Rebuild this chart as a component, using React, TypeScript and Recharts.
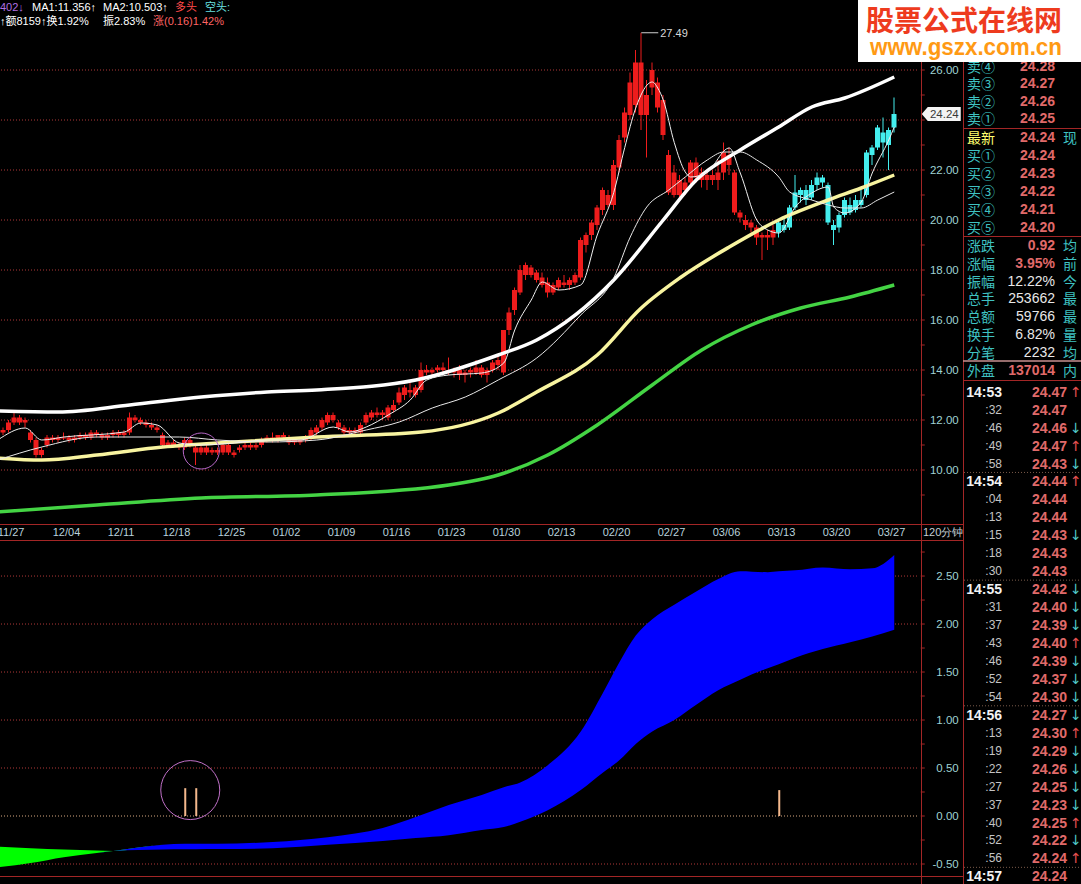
import React from "react";
import { ComposedChart, Bar, Line, Area, XAxis, YAxis, CartesianGrid, ReferenceDot } from "recharts";

// ---------------- data ----------------
const dateLabels = ["11/27","12/04","12/11","12/18","12/25","01/02","01/09","01/16","01/23","01/30","02/13","02/20","02/27","03/06","03/13","03/20","03/27"];

const openP = [
11.3,11.5,11.6,11.9,12.1,11.9,11.5,11.2,10.6,11.0,
11.3,11.2,11.3,11.3,11.2,11.3,11.4,11.3,11.5,11.4,
11.3,11.4,11.5,11.4,11.5,12.1,12.0,11.9,11.8,11.7,
11.4,11.0,11.1,11.0,10.9,11.2,10.9,10.7,10.9,10.7,
10.8,10.7,11.0,10.7,10.8,10.9,11.0,10.9,11.0,11.2,
11.3,11.2,11.4,11.3,11.1,11.1,11.2,11.3,11.5,11.7,
11.9,12.2,11.9,11.7,11.5,11.6,11.5,11.9,12.1,12.2,
12.2,12.1,12.4,12.7,13.0,13.2,13.0,13.2,14.0,13.9,
14.0,14.1,14.0,13.9,14.0,13.8,13.9,13.9,14.1,13.8,
14.0,14.2,13.9,15.6,16.4,17.1,17.8,18.1,17.9,17.7,
17.5,17.1,17.3,17.5,17.4,17.5,17.7,19.0,19.4,19.8,
20.4,21.0,20.6,22.1,23.3,24.2,24.6,26.3,24.2,25.3,
25.5,24.8,22.6,21.9,21.6,21.2,21.5,22.3,21.6,21.8,
21.6,21.6,21.9,22.6,21.9,20.3,20.0,19.9,19.7,19.4,
19.3,19.3,19.5,19.8,19.7,20.5,21.0,21.2,20.9,21.4,
21.7,21.4,19.8,19.7,20.2,20.6,20.4,20.8,21.0,22.6,
22.9,23.5,23.0,23.7];
const highP = [
11.6,11.7,12.0,12.3,12.2,12.1,11.6,11.3,10.9,11.4,
11.4,11.4,11.5,11.4,11.4,11.5,11.5,11.6,11.6,11.5,
11.5,11.6,11.6,11.6,12.3,12.2,12.1,12.0,11.9,11.8,
11.5,11.2,11.2,11.1,11.3,11.3,11.0,11.0,11.0,10.9,
10.9,11.1,11.1,10.8,11.0,11.1,11.1,11.1,11.3,11.4,
11.5,11.4,11.5,11.4,11.3,11.3,11.4,11.7,11.8,12.1,
12.3,12.3,12.0,11.8,11.7,11.7,11.9,12.3,12.4,12.5,
12.4,12.6,12.8,13.3,13.4,13.5,13.4,14.3,14.2,14.1,
14.2,14.3,14.5,14.1,14.2,14.0,14.1,14.4,14.2,14.1,
14.4,14.6,15.6,16.5,17.3,18.2,18.3,18.2,18.0,17.9,
17.7,17.5,17.7,17.8,17.7,17.9,19.3,19.5,20.0,20.6,
21.3,21.2,22.4,23.4,24.5,25.9,26.8,27.49,25.6,26.3,
25.7,25.0,22.8,22.2,21.8,21.7,22.4,22.5,22.1,22.0,
22.0,22.4,23.1,22.9,22.0,20.4,20.2,20.0,19.8,19.5,
19.6,19.8,20.0,20.1,20.6,21.8,21.3,21.4,21.6,21.9,
21.8,21.5,20.0,20.3,20.9,20.9,21.0,21.2,22.8,23.0,
23.8,24.1,23.7,24.9];
const lowP = [
11.2,11.4,11.5,11.8,11.8,11.7,11.1,10.5,10.5,10.9,
11.1,11.1,11.2,11.1,11.1,11.2,11.2,11.2,11.3,11.2,
11.2,11.3,11.3,11.3,11.4,11.9,11.8,11.7,11.6,11.5,
10.9,10.9,10.9,10.8,10.8,10.9,10.2,10.6,10.6,10.6,
10.6,10.6,10.6,10.5,10.7,10.8,10.8,10.8,10.9,11.1,
11.1,11.1,11.2,11.0,11.0,11.0,11.1,11.2,11.4,11.6,
11.8,11.9,11.6,11.4,11.4,11.4,11.4,11.8,12.0,12.1,
12.0,12.0,12.3,12.6,12.8,12.9,12.9,13.1,13.8,13.8,
13.9,13.9,13.8,13.7,13.6,13.5,13.7,13.8,13.7,13.5,
13.9,14.0,13.8,15.4,16.2,17.0,17.6,17.7,17.5,17.3,
16.9,17.0,17.2,17.3,17.2,17.4,17.6,18.7,19.2,19.6,
20.2,20.5,20.4,21.9,23.1,24.0,24.3,23.6,22.5,25.0,
24.3,23.2,21.0,20.9,20.9,21.0,21.3,21.5,21.3,21.2,
21.4,21.2,21.6,21.8,20.2,19.9,19.6,19.5,19.0,18.4,
18.8,19.0,19.3,19.5,19.6,20.4,20.7,20.6,20.8,21.2,
21.3,19.8,19.0,19.5,20.1,20.2,20.3,20.5,20.9,22.2,
22.8,22.5,22.0,23.5];
const closeP = [
11.5,11.6,11.9,12.1,11.9,12.0,11.2,10.6,10.8,11.3,
11.2,11.3,11.3,11.2,11.3,11.4,11.3,11.5,11.4,11.3,
11.4,11.5,11.4,11.5,12.1,12.0,11.9,11.8,11.7,11.6,
11.0,11.1,11.0,10.9,11.2,11.0,10.7,10.9,10.7,10.8,
10.7,11.0,10.7,10.6,10.9,11.0,10.9,11.0,11.2,11.3,
11.2,11.4,11.3,11.1,11.2,11.2,11.3,11.6,11.7,12.0,
12.2,12.0,11.7,11.5,11.6,11.5,11.8,12.2,12.3,12.3,
12.3,12.5,12.6,13.1,13.3,13.1,13.3,14.0,13.9,14.0,
14.1,14.0,13.9,14.0,13.8,13.9,14.0,14.1,13.8,14.0,
14.3,14.4,15.6,16.3,17.2,18.0,18.2,17.8,17.6,17.4,
17.1,17.4,17.6,17.4,17.6,17.8,19.2,19.4,19.9,20.5,
21.2,20.6,22.2,23.2,24.3,25.5,26.3,24.2,25.0,26.0,
24.5,23.4,21.1,21.0,21.0,21.5,22.3,21.7,21.9,21.6,
21.8,21.9,22.7,22.2,20.3,20.1,19.8,19.7,19.3,19.3,
19.4,19.6,19.9,19.6,20.5,21.1,21.2,20.8,21.4,21.7,
21.5,19.9,19.6,20.2,20.8,20.3,20.8,20.6,22.7,22.9,
23.7,23.1,23.6,24.24];
const CYAN_FROM = 142;
const lastPrice = 24.24;
const peakBar = 117;

// [bar, value]
const upperBand: [number, number][] = [[0,12.36],[11,12.32],[24,12.6],[37,12.92],[49,13.12],[58,13.2],[76,13.6],[91,14.6],[98,15.2],[112,17.6],[121,20.0],[127,21.6],[135,22.8],[142,23.72],[148,24.52],[154,24.88],[163,25.72]];
const midBand: [number, number][] = [[0,10.48],[8,10.4],[18,10.6],[30,10.92],[43,11.12],[58,11.32],[77,11.52],[91,12.28],[98,13.12],[109,14.6],[117,16.48],[124,17.68],[133,18.92],[142,20.0],[151,20.8],[157,21.28],[163,21.8]];
const lowerBand: [number, number][] = [[0,8.32],[18,8.6],[37,8.88],[58,9.0],[82,9.4],[91,9.8],[100,10.6],[109,11.8],[119,13.4],[128,14.8],[137,15.8],[146,16.48],[155,16.92],[163,17.4]];
const ma1: [number, number][] = [[0,11.2],[5,11.68],[8,11.2],[12,11.32],[23,11.52],[26,11.88],[29,11.8],[33,11.08],[37,11.0],[43,11.08],[49,11.2],[55,11.2],[61,11.72],[64,11.52],[67,11.72],[71,12.2],[75,12.8],[78,13.6],[82,13.8],[88,13.88],[92,14.28],[94,15.6],[97,16.8],[99,17.52],[102,17.2],[106,17.4],[109,19.4],[112,21.1],[114,22.9],[116,24.48],[119,25.52],[120,25.28],[121,24.8],[123,23.1],[125,21.92],[126,21.72],[129,21.92],[133,22.88],[135,21.88],[138,20.0],[140,19.6],[142,19.48],[145,20.52],[148,21.08],[151,21.32],[152,20.52],[154,20.28],[157,20.72],[159,21.88],[162,23.2],[163,23.72]];
const ma2: [number, number][] = [[0,10.4],[8,10.92],[18,11.32],[33,11.32],[40,11.2],[49,11.12],[58,11.2],[67,11.6],[73,11.92],[79,12.48],[85,12.92],[91,13.6],[98,14.48],[106,16.2],[112,17.68],[115,19.32],[118,20.52],[122,21.2],[125,21.72],[129,22.4],[132,22.72],[135,22.72],[138,22.4],[142,21.72],[144,21.12],[148,20.8],[151,20.6],[154,20.48],[157,20.48],[160,20.8],[163,21.12]];

// lower indicator
const indBars = [0,6,12,18,21,30,34,36,40,50,60,70,76,82,88,92,95,100,106,110,113,116,119,123,127,131,135,140,142,145,150,155,159,163];
const indFast = [-0.535,-0.49,-0.43,-0.385,-0.365,-0.30,-0.29,-0.29,-0.29,-0.27,-0.22,-0.125,-0.01,0.115,0.22,0.30,0.35,0.53,0.88,1.28,1.60,1.88,2.05,2.20,2.34,2.47,2.55,2.54,2.55,2.56,2.59,2.57,2.58,2.72];
const indSlow = [-0.32,-0.335,-0.35,-0.36,-0.365,-0.35,-0.347,-0.346,-0.345,-0.335,-0.30,-0.26,-0.23,-0.20,-0.146,-0.115,-0.06,0.06,0.27,0.45,0.58,0.75,0.88,1.00,1.16,1.31,1.42,1.54,1.58,1.65,1.74,1.81,1.87,1.94];
const sigBars = [34, 36, 142];
const sigVals = [0.29, 0.29, 0.27];

const priceGrid = [10,12,14,16,18,20,22,24,26];
const priceTicks = [9,10,11,12,13,14,15,16,17,18,19,20,21,22,23,24,25,26,27, lastPrice];
const indGrid = [-0.5,0.5,1,1.5,2,2.5];
const indZero = [0];
const indTicks = [-0.5,-0.25,0,0.25,0.5,0.75,1,1.25,1.5,1.75,2,2.25,2.5,2.75];

const askLabels = ["卖④","卖③","卖②","卖①"];
const askPrices = ["24.28","24.27","24.26","24.25"];
const bidLabels = ["买①","买②","买③","买④","买⑤"];
const bidPrices = ["24.24","24.23","24.22","24.21","24.20"];
const statLabels = ["涨跌","涨幅","振幅","总手","总额","换手","分笔","外盘"];
const statValues = ["0.92","3.95%","12.22%","253662","59766","6.82%","2232","137014"];
const statRed = [true,true,false,false,false,false,false,true];
const statRight = ["均","前","今","最","最","量","均","内"];
const tickTimes = ["14:53",":32",":46",":49",":58","14:54",":04",":13",":15",":18",":30","14:55",":31",":37",":43",":46",":52",":54","14:56",":13",":19",":22",":27",":37",":40",":52",":56","14:57"];
const tickPrices = ["24.47","24.47","24.46","24.47","24.43","24.44","24.44","24.44","24.43","24.43","24.43","24.42","24.40","24.39","24.40","24.39","24.37","24.30","24.27","24.30","24.29","24.26","24.25","24.23","24.25","24.22","24.24","24.24"];
const tickDirs = ["u","","d","u","d","u","","","d","","","d","d","d","u","d","d","d","d","u","d","d","d","d","u","d","u",""];

// ---------------- layout / style ----------------
const SLOTS = 168;
const CHART_LEFT = -4.75;
const PLOT_W = 924;
const AXIS_W = 43.75;
const CHART_W = PLOT_W + AXIS_W;
const AXIS_X = 921 - CHART_LEFT;
const RL = "#a32626";
const RED = "#ee1c1c";
const CYAN = "#44eeee";
const AXIS_TXT = "#9fd2d2";
const GRID = "#b03838";
const NUM = "'Liberation Sans', Arial, sans-serif";
const CJK = "'Noto Sans CJK SC', 'Noto Sans', sans-serif";
const LBL = "#3fc2c2";
const PRC = "#e06a6a";

const toMap = (pts: [number, number][]) => new Map(pts.map(([i, v]) => [i, v] as [number, number]));
const mUp = toMap(upperBand), mMid = toMap(midBand), mLow = toMap(lowerBand), mA = toMap(ma1), mB = toMap(ma2);

const rows = Array.from({ length: SLOTS }, (_, i) => {
  const has = i < closeP.length;
  return {
    i,
    range: has ? [lowP[i], highP[i]] : null,
    o: has ? openP[i] : null,
    h: has ? highP[i] : null,
    l: has ? lowP[i] : null,
    c: has ? closeP[i] : null,
    up: mUp.has(i) ? mUp.get(i) : null,
    mid: mMid.has(i) ? mMid.get(i) : null,
    low: mLow.has(i) ? mLow.get(i) : null,
    a: mA.has(i) ? mA.get(i) : null,
    b: mB.has(i) ? mB.get(i) : null,
  };
});

const indRows = indBars.map((bar, k) => {
  const f = indFast[k], s = indSlow[k];
  const si = sigBars.indexOf(bar);
  return {
    i: bar,
    green: f <= s ? [f, s] : [f, f],
    blue: f >= s ? [s, f] : [f, f],
    sig: si >= 0 ? sigVals[si] : undefined,
  };
});

const gridGen = (vals: number[]) => (props: any) => {
  const s = props && props.yAxis && props.yAxis.scale;
  if (typeof s === "function") return vals.map((v) => s(v));
  if (s && typeof s.map === "function") return vals.map((v) => s.map(v));
  return [];
};

// ---------------- custom shapes ----------------
const Candle = (p: any) => {
  const { x, y, width, height, payload } = p;
  if (!payload || payload.o == null || y == null) return null;
  const { o, h, l, c, i } = payload;
  const top = Math.min(y, y + height);
  const hh = Math.abs(height);
  const k = h > l ? hh / (h - l) : 0;
  const py = (v: number) => top + (h - v) * k;
  const color = i >= CYAN_FROM ? CYAN : RED;
  const cx = x + width / 2;
  const bt = py(Math.max(o, c));
  const bb = py(Math.min(o, c));
  return (
    <g>
      <line x1={cx} x2={cx} y1={top} y2={top + hh} stroke={color} strokeWidth={1} />
      <rect x={x} y={bt} width={width} height={Math.max(1, bb - bt)} fill={color} />
    </g>
  );
};

const DateTick = (p: any) => {
  const idx = Math.round(Number(p.payload.value) / 10);
  return (
    <text x={p.x} y={p.y + 7.5} fill="#b9d2dc" fontSize={11} fontFamily={NUM} dominantBaseline="central">
      {dateLabels[idx]}
    </text>
  );
};

const PriceTick = (p: any) => {
  const v = Number(p.payload.value);
  const y = p.y;
  if (v === lastPrice) {
    const L = AXIS_X + 1;
    return (
      <g>
        <polygon points={`${L},${y} ${L + 6},${y - 7} ${CHART_W - 2},${y - 7} ${CHART_W - 2},${y + 7} ${L + 6},${y + 7}`} fill="#f4f4f4" />
        <text x={CHART_W - 4} y={y} textAnchor="end" dominantBaseline="central" fill="#383838" fontSize={11.5} fontFamily={NUM}>
          {v.toFixed(2)}
        </text>
      </g>
    );
  }
  const major = v % 2 === 0 && v >= 10 && v <= 26 && Math.abs(v - lastPrice) > 0.5;
  return (
    <g>
      <line x1={AXIS_X} x2={AXIS_X + 4} y1={y} y2={y} stroke={RL} />
      {major && (
        <text x={CHART_W - 4} y={y} textAnchor="end" dominantBaseline="central" fill={AXIS_TXT} fontSize={11.5} fontFamily={NUM}>
          {v.toFixed(2)}
        </text>
      )}
    </g>
  );
};

const IndTick = (p: any) => {
  const v = Number(p.payload.value);
  const y = p.y;
  const major = Math.abs(v * 2 - Math.round(v * 2)) < 1e-6;
  return (
    <g>
      <line x1={AXIS_X} x2={AXIS_X + 4} y1={y} y2={y} stroke={RL} />
      {major && (
        <text x={CHART_W - 4} y={y} textAnchor="end" dominantBaseline="central" fill={AXIS_TXT} fontSize={11.5} fontFamily={NUM}>
          {v.toFixed(2)}
        </text>
      )}
    </g>
  );
};

const HighMark = (p: any) => (
  <g>
    <line x1={p.cx} y1={p.cy} x2={p.cx + 17} y2={p.cy} stroke="#d0d0d0" strokeWidth={1} />
    <text x={p.cx + 19} y={p.cy} dominantBaseline="central" fill="#d8d8d8" fontSize={11} fontFamily={NUM}>
      {highP[peakBar].toFixed(2)}
    </text>
  </g>
);

// ---------------- charts ----------------
const TopChart = () => (
  <ComposedChart width={CHART_W} height={541} data={rows} margin={{ top: 28, right: 0, bottom: 0, left: 0 }}>
    <CartesianGrid vertical={false} horizontalCoordinatesGenerator={gridGen(priceGrid)} stroke={GRID} strokeDasharray="1 2" />
    <XAxis dataKey="i" type="category" height={17} ticks={dateLabels.map((_, k) => k * 10)} interval={0}
      tick={DateTick} tickLine={false} axisLine={false} tickSize={0} tickMargin={0} />
    <YAxis type="number" orientation="right" width={AXIS_W} domain={[7.84, 27.68]} allowDataOverflow
      ticks={priceTicks} interval={0} tick={PriceTick} tickLine={false} axisLine={false} />
    <Bar dataKey="range" barSize={5} shape={(p: any) => <Candle {...p} />} isAnimationActive={false} />
    <Line dataKey="low" type="monotone" stroke="#44d444" strokeWidth={3.5} dot={false} activeDot={false} connectNulls isAnimationActive={false} />
    <Line dataKey="mid" type="monotone" stroke="#f8f4a0" strokeWidth={3.5} dot={false} activeDot={false} connectNulls isAnimationActive={false} />
    <Line dataKey="up" type="monotone" stroke="#ffffff" strokeWidth={3.5} dot={false} activeDot={false} connectNulls isAnimationActive={false} />
    <Line dataKey="b" type="monotone" stroke="#e8e8e8" strokeWidth={1} dot={false} activeDot={false} connectNulls isAnimationActive={false} />
    <Line dataKey="a" type="monotone" stroke="#f0f0f0" strokeWidth={1} dot={false} activeDot={false} connectNulls isAnimationActive={false} />
    <ReferenceDot x={37} y={10.76} r={18} fill="none" stroke="#b868c8" strokeWidth={1} />
    <ReferenceDot x={peakBar} y={highP[peakBar]} shape={(p: any) => <HighMark {...p} />} />
  </ComposedChart>
);

const BottomChart = () => (
  <ComposedChart width={CHART_W} height={343} data={indRows} margin={{ top: 0, right: 0, bottom: 8, left: 0 }}>
    <CartesianGrid vertical={false} horizontalCoordinatesGenerator={gridGen(indGrid)} stroke={GRID} strokeDasharray="1 2" />
    <CartesianGrid vertical={false} horizontalCoordinatesGenerator={gridGen(indZero)} stroke="#d8a880" strokeDasharray="1 2" />
    <XAxis dataKey="i" type="number" domain={[-0.5, SLOTS - 0.5]} allowDataOverflow hide />
    <YAxis type="number" orientation="right" width={AXIS_W} domain={[-0.625, 2.865]} allowDataOverflow
      ticks={indTicks} interval={0} tick={IndTick} tickLine={false} axisLine={false} />
    <Area dataKey="green" type="monotone" stroke="none" fill="#00ff00" fillOpacity={1} dot={false} activeDot={false} isAnimationActive={false} />
    <Area dataKey="blue" type="monotone" stroke="none" fill="#0000ff" fillOpacity={1} dot={false} activeDot={false} isAnimationActive={false} />
    <Bar dataKey="sig" barSize={2} fill="#f4b88c" isAnimationActive={false} />
    <ReferenceDot x={35} y={0.27} r={29.5} fill="none" stroke="#c070c8" strokeWidth={1} />
  </ComposedChart>
);

// ---------------- overlay ----------------
const Overlay = () => {
  const askY = [66, 83, 101, 118];
  const bidY = [155, 173, 191, 209, 227];
  const statY = [245, 263, 281, 298, 316, 334, 352, 370];
  return (
    <svg width={1081} height={884} style={{ position: "absolute", left: 0, top: 0 }}>
      {/* frame */}
      <line x1={921.5} y1={0} x2={921.5} y2={884} stroke={RL} />
      <line x1={963.5} y1={0} x2={963.5} y2={884} stroke={RL} />
      <line x1={0} y1={524.5} x2={963} y2={524.5} stroke={RL} />
      <line x1={0} y1={540.5} x2={963} y2={540.5} stroke={RL} />
      <line x1={0} y1={876.5} x2={963} y2={876.5} stroke={RL} />
      <text x={923} y={532} fill="#c4cdd4" fontSize={11} fontFamily={NUM} dominantBaseline="central">120分钟</text>

      {/* header */}
      <g fontSize={11} fontFamily={`${NUM}, 'Noto Sans CJK SC'`} dominantBaseline="central">
        <text x={0} y={7} fill="#b070e0">402↓</text>
        <text x={32} y={7} fill="#ffffff">MA1:11.356↑</text>
        <text x={103} y={7} fill="#ffffff">MA2:10.503↑</text>
        <text x={175} y={7} fill="#ff4a4a">多头</text>
        <text x={205} y={7} fill="#6ae0e0">空头:</text>
        <text x={0} y={21} fill="#ffffff">↑额8159↑换1.92%</text>
        <text x={103} y={21} fill="#ffffff">振2.83%</text>
        <text x={153} y={21} fill="#ff6464">涨(0.16)1.42%</text>
      </g>

      {/* order book */}
      <g dominantBaseline="central">
        {askLabels.map((t, k) => (
          <g key={"a" + k}>
            <text x={967} y={askY[k]} fill={LBL} fontSize={14} fontFamily={CJK}>{t}</text>
            <text x={1055} y={askY[k]} fill={PRC} fontSize={14} fontWeight="bold" fontFamily={NUM} textAnchor="end">{askPrices[k]}</text>
          </g>
        ))}
        <line x1={963} y1={128.5} x2={1081} y2={128.5} stroke={RL} />
        <text x={967} y={137} fill="#ffff70" fontSize={14} fontFamily={CJK}>最新</text>
        <text x={1055} y={137} fill={PRC} fontSize={14} fontWeight="bold" fontFamily={NUM} textAnchor="end">{lastPrice.toFixed(2)}</text>
        <text x={1063} y={137} fill={LBL} fontSize={14} fontFamily={CJK}>现</text>
        {bidLabels.map((t, k) => (
          <g key={"b" + k}>
            <text x={967} y={bidY[k]} fill={LBL} fontSize={14} fontFamily={CJK}>{t}</text>
            <text x={1055} y={bidY[k]} fill={PRC} fontSize={14} fontWeight="bold" fontFamily={NUM} textAnchor="end">{bidPrices[k]}</text>
          </g>
        ))}
        <line x1={963} y1={236.5} x2={1081} y2={236.5} stroke={RL} />
        {statLabels.map((t, k) => (
          <g key={"s" + k}>
            <text x={967} y={statY[k]} fill={LBL} fontSize={14} fontFamily={CJK}>{t}</text>
            <text x={1055} y={statY[k]} fill={statRed[k] ? PRC : "#e8e8e8"} fontSize={14} fontWeight={statRed[k] ? "bold" : "normal"} fontFamily={NUM} textAnchor="end">{statValues[k]}</text>
            <text x={1063} y={statY[k]} fill={LBL} fontSize={14} fontFamily={CJK}>{statRight[k]}</text>
          </g>
        ))}
        <line x1={963} y1={361} x2={1081} y2={361} stroke="#c89090" strokeWidth={1.5} />
        <line x1={963} y1={380.5} x2={1081} y2={380.5} stroke={RL} />
        {tickTimes.map((t, k) => {
          const y = 391.7 + k * 17.95;
          const major = t.startsWith("14");
          return (
            <g key={"t" + k}>
              {major && k > 0 && <line x1={964} y1={y - 9} x2={1081} y2={y - 9} stroke="#7a5a4a" strokeDasharray="1 2" />}
              <text x={1002} y={y} fill={major ? "#f2f2f2" : "#c4c4c4"} fontSize={major ? 14 : 12} fontWeight={major ? "bold" : "normal"} fontFamily={NUM} textAnchor="end">{t}</text>
              <text x={1067} y={y} fill={PRC} fontSize={14} fontWeight="bold" fontFamily={NUM} textAnchor="end">{tickPrices[k]}</text>
              {tickDirs[k] === "u" && <text x={1070} y={y} fill="#e05050" fontSize={14} fontFamily="'DejaVu Sans', sans-serif">↑</text>}
              {tickDirs[k] === "d" && <text x={1070} y={y} fill="#50c8c8" fontSize={14} fontFamily="'DejaVu Sans', sans-serif">↓</text>}
            </g>
          );
        })}
      </g>

      {/* watermark */}
      <rect x={858} y={0} width={223} height={62} fill="#ffffff" />
      <text x={866} y={19} fill="#ee3b1e" fontSize={28} fontWeight="bold" fontFamily={CJK} dominantBaseline="central">股票公式在线网</text>
      <text x={870} y={47} fill="#ff9a14" fontSize={23} fontWeight="bold" fontFamily={NUM} dominantBaseline="central" textLength={192} lengthAdjust="spacingAndGlyphs">www.gszx.com.cn</text>
    </svg>
  );
};

export default function App() {
  return (
    <div style={{ position: "absolute", left: 0, top: 0, width: 1081, height: 884, background: "#000", overflow: "hidden" }}>
      <div style={{ position: "absolute", left: CHART_LEFT, top: 0 }}>
        <TopChart />
      </div>
      <div style={{ position: "absolute", left: CHART_LEFT, top: 541 }}>
        <BottomChart />
      </div>
      <Overlay />
    </div>
  );
}
